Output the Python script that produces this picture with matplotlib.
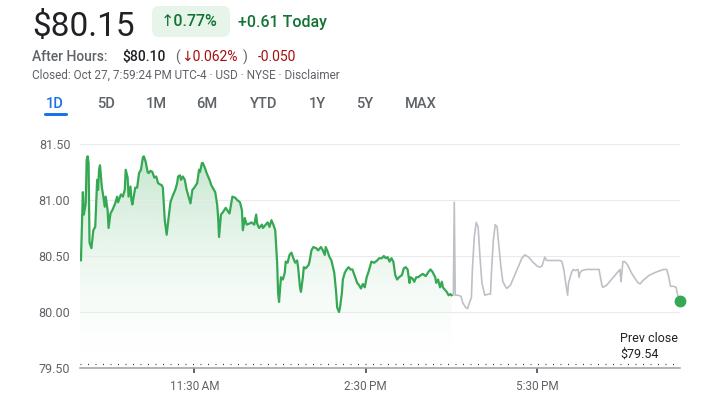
import numpy as np
import matplotlib
matplotlib.use('Agg')
import matplotlib.pyplot as plt
from matplotlib.patches import FancyBboxPatch
from matplotlib.transforms import Affine2D
from matplotlib.colors import to_rgb

plt.rcParams['font.family'] = ['Roboto', 'DejaVu Sans']

# regular session: minutes after 9:30 AM and price
reg_min = [0, 1, 3, 4, 6, 7, 8, 9, 10, 12,
           14, 16, 18, 19, 20, 21, 23, 24, 26, 27,
           29, 30, 32, 34, 37, 39, 40, 43, 45, 47,
           48, 50, 51, 53, 54, 55, 58, 60, 62, 64,
           66, 67, 69, 71, 72, 74, 76, 78, 80, 82,
           86, 87, 89, 91, 93, 95, 97, 100, 102, 103,
           105, 106, 108, 110, 112, 114, 116, 118, 120, 123,
           125, 126, 128, 129, 131, 133, 136, 138, 142, 144,
           145, 146, 148, 150, 153, 156, 157, 160, 163, 165,
           168, 170, 171, 173, 175, 178, 180, 183, 185, 186,
           188, 191, 192, 195, 197, 199, 201, 203, 205, 207,
           208, 209, 211, 213, 215, 216, 218, 220, 222, 224,
           226, 228, 229, 231, 232, 234, 235, 237, 240, 241,
           243, 245, 248, 250, 253, 255, 257, 258, 260, 262,
           264, 267, 269, 270, 272, 273, 275, 276, 278, 280,
           282, 284, 286, 289, 291, 293, 295, 297, 299, 301,
           303, 305, 306, 309, 312, 314, 317, 319, 321, 323,
           325, 327, 329, 331, 333, 335, 338, 340, 342, 344,
           346, 347, 349, 351, 353, 355, 358, 360, 363, 366,
           368, 370, 373, 374, 376, 378, 380, 381, 383, 385,
           387, 389, 390]
reg_price = [80.52, 80.46, 81.07, 80.87, 80.97, 81.36, 81.39, 81.33, 80.62, 80.57,
             80.73, 80.76, 81.18, 81.09, 81.27, 81.31, 81.11, 81.06, 80.94, 81.03,
             80.91, 80.75, 80.88, 80.91, 80.97, 81.03, 80.98, 81.05, 81.03, 81.09,
             81.27, 81.20, 81.03, 81.12, 81.00, 80.96, 81.11, 81.11, 81.24, 81.27,
             81.38, 81.39, 81.34, 81.25, 81.24, 81.26, 81.25, 81.20, 81.21, 81.15,
             81.13, 81.11, 80.82, 80.69, 80.84, 80.98, 81.03, 81.09, 81.15, 81.21,
             81.22, 81.18, 81.21, 81.18, 81.09, 81.03, 80.97, 81.09, 81.11, 81.15,
             81.27, 81.25, 81.33, 81.33, 81.29, 81.24, 81.18, 81.13, 81.07, 80.96,
             80.85, 80.67, 80.87, 80.89, 80.93, 80.89, 80.88, 81.03, 81.02, 81.00,
             80.98, 80.91, 80.73, 80.84, 80.78, 80.79, 80.80, 80.78, 80.87, 80.79,
             80.75, 80.78, 80.75, 80.78, 80.80, 80.76, 80.82, 80.78, 80.73, 80.44,
             80.17, 80.09, 80.31, 80.29, 80.35, 80.45, 80.44, 80.51, 80.53, 80.48,
             80.44, 80.46, 80.40, 80.22, 80.18, 80.31, 80.40, 80.39, 80.42, 80.45,
             80.55, 80.58, 80.57, 80.55, 80.58, 80.55, 80.51, 80.58, 80.54, 80.49,
             80.46, 80.35, 80.17, 80.04, 80.00, 80.04, 80.17, 80.29, 80.35, 80.38,
             80.40, 80.38, 80.38, 80.31, 80.26, 80.24, 80.21, 80.25, 80.22, 80.31,
             80.36, 80.42, 80.45, 80.44, 80.46, 80.48, 80.48, 80.50, 80.48, 80.49,
             80.45, 80.48, 80.45, 80.33, 80.29, 80.31, 80.33, 80.39, 80.40, 80.38,
             80.26, 80.31, 80.30, 80.27, 80.31, 80.31, 80.33, 80.34, 80.32, 80.36,
             80.38, 80.36, 80.31, 80.26, 80.29, 80.22, 80.27, 80.22, 80.20, 80.18,
             80.15, 80.16, 80.15]

# after hours
ah_min = [390, 392, 393, 394, 397, 400, 402, 405, 407, 408,
          411, 412, 414, 416, 418, 420, 422, 425, 429, 431,
          432, 434, 436, 438, 439, 442, 444, 448, 452, 455,
          460, 464, 467, 471, 475, 480, 483, 485, 487, 488,
          490, 492, 497, 504, 506, 508, 510, 512, 513, 516,
          518, 520, 523, 524, 525, 527, 532, 539, 545, 546,
          548, 549, 553, 558, 564, 566, 567, 568, 569, 570,
          572, 575, 579, 585, 588, 591, 598, 606, 613, 616,
          618, 620, 623, 626, 627, 629, 630]
ah_price = [80.15, 80.15, 80.98, 80.15, 80.15, 80.14, 80.08, 80.04, 80.03, 80.06,
            80.13, 80.38, 80.67, 80.80, 80.76, 80.49, 80.26, 80.15, 80.16, 80.16,
            80.35, 80.64, 80.78, 80.76, 80.66, 80.40, 80.27, 80.21, 80.24, 80.30,
            80.40, 80.48, 80.51, 80.49, 80.45, 80.41, 80.40, 80.41, 80.46, 80.49,
            80.46, 80.46, 80.46, 80.46, 80.45, 80.38, 80.26, 80.15, 80.26, 80.35,
            80.38, 80.37, 80.38, 80.31, 80.35, 80.37, 80.38, 80.38, 80.38, 80.33,
            80.24, 80.22, 80.24, 80.29, 80.35, 80.37, 80.38, 80.27, 80.35, 80.45,
            80.45, 80.42, 80.35, 80.27, 80.25, 80.28, 80.33, 80.36, 80.38, 80.38,
            80.32, 80.23, 80.23, 80.22, 80.17, 80.11, 80.10]

prev_close = 79.54
y_ticks = [79.5, 80.0, 80.5, 81.0, 81.5]
x_ticks = [11.5, 14.5, 17.5]
x_labels = ['11:30\u202fAM', '2:30\u202fPM', '5:30\u202fPM']
tabs = ['1D', '5D', '1M', '6M', 'YTD', '1Y', '5Y', 'MAX']

green = '#34a853'
grey_line = '#bdc1c6'

t_reg = 9.5 + np.array(reg_min) / 60
t_ah = 9.5 + np.array(ah_min) / 60

W, H = 710, 395
fig = plt.figure(figsize=(W / 100, H / 100), dpi=100)
T = Affine2D().scale(1, -1).translate(0, H)  # pixel coords from the top left

ax = fig.add_axes([80 / W, (H - 368) / H, 600 / W, (368 - 144) / H])

# gradient fill under the regular session line
alpha = np.linspace(0, 1, 300) ** 1.6 * 0.30
rgba = np.zeros((300, 1, 4))
rgba[..., :3] = to_rgb(green)
rgba[..., 3] = alpha[:, None]
img = ax.imshow(rgba, extent=[t_reg[0], t_reg[-1], 79.5, 81.5], origin='lower',
                aspect='auto', zorder=1, interpolation='bilinear')
fill = ax.fill_between(t_reg, reg_price, 79.5, facecolor='none', edgecolor='none')
img.set_clip_path(fill.get_paths()[0], transform=ax.transData)

ax.plot(t_reg, reg_price, color=green, lw=1.6, zorder=3, solid_joinstyle='round')
ax.plot(t_ah, ah_price, color=grey_line, lw=1.2, zorder=2, solid_joinstyle='round')
ax.plot(t_ah[-1], ah_price[-1], 'o', color=green, ms=7.5, zorder=4, clip_on=False)

ax.axhline(prev_close, color='#3c4043', lw=0.9, ls=(0, (0.8, 5.2)), zorder=2)
ax.text(620, 338, 'Prev close', transform=T, fontsize=9, color='#202124', va='center')
ax.text(620, 354, '$79.54', transform=T, fontsize=9, color='#202124', va='center')

ax.set_xlim(9.5, 20)
ax.set_ylim(79.5, 81.5)
ax.set_yticks(y_ticks)
ax.set_yticklabels([f'{v:.2f}' for v in y_ticks])
ax.set_xticks(x_ticks)
ax.set_xticklabels(x_labels)
ax.grid(axis='y', color='#e8eaed', lw=0.8, zorder=0)
for s in ['top', 'right', 'left']:
    ax.spines[s].set_visible(False)
ax.spines['bottom'].set_color('#9aa0a6')
ax.spines['bottom'].set_linewidth(1.1)
ax.tick_params(axis='y', length=0, pad=7, labelsize=9, labelcolor='#5f6368')
ax.tick_params(axis='x', length=3.5, width=1.4, color='#5f6368', pad=5,
               labelsize=8.5, labelcolor='#5f6368')

# header
fig.text(32, 36, '$80.15', transform=T, fontsize=24, color='#202124', va='baseline')
chip = FancyBboxPatch((152, 6), 78, 31, boxstyle='round,pad=0,rounding_size=7',
                      transform=T, facecolor='#e6f4ea', edgecolor='none')
fig.add_artist(chip)
fig.text(161, 22, '\u21910.77%', transform=T, fontsize=11.5, color='#137333', va='center',
         fontweight='medium')
fig.text(238, 22, '+0.61 Today', transform=T, fontsize=11.5, color='#137333', va='center',
         fontweight='medium')

fig.text(32, 57, 'After Hours:', transform=T, fontsize=10, color='#5f6368', va='center',
         fontweight='medium')
fig.text(122, 57, '$80.10', transform=T, fontsize=10, color='#202124', va='center',
         fontweight='medium')
fig.text(175, 57, '(', transform=T, fontsize=10, color='#5f6368', va='center')
fig.text(181, 57, '\u21930.062%', transform=T, fontsize=10, color='#a50e0e', va='center')
fig.text(243, 57, ')', transform=T, fontsize=10, color='#5f6368', va='center')
fig.text(258, 57, '-0.050', transform=T, fontsize=10, color='#a50e0e', va='center')

fig.text(32, 75.5, 'Closed: Oct 27, 7:59:24\u202fPM UTC-4 \u00b7 USD \u00b7 NYSE \u00b7 Disclaimer',
         transform=T, fontsize=8.5, color='#5f6368', va='center')

tab_x = [55, 106, 156, 207, 264, 317, 365, 421]
for lab, x in zip(tabs, tab_x):
    fig.text(x, 104.5, lab, transform=T, fontsize=10.5, ha='center', va='center',
             fontweight='medium', color='#1a73e8' if lab == '1D' else '#5f6368')
underline = FancyBboxPatch((44, 113), 24, 3, boxstyle='round,pad=0,rounding_size=1.5',
                           transform=T, facecolor='#1a73e8', edgecolor='none')
fig.add_artist(underline)

fig.savefig('out.png', dpi=100, facecolor='white')
